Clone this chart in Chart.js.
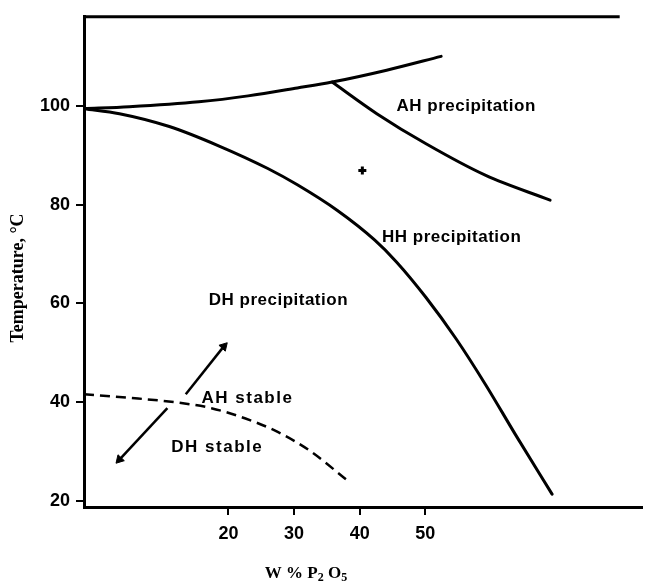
<!DOCTYPE html>
<html>
<head>
<meta charset="utf-8">
<script src="https://cdn.jsdelivr.net/npm/chart.js@4/dist/chart.umd.min.js"></script>
<style>
  body { margin: 0; background: #fff; }
  #wrap { width: 649px; height: 587px; }
</style>
</head>
<body>
<div id="wrap"><canvas id="phaseChart" width="649" height="587"></canvas></div>
<script>
// Tick labels
const xTicks = [20, 30, 40, 50];
const yTicks = [20, 40, 60, 80, 100];

// Upper boundary (W% P2O5, temperature)
const topCurveP = [-2.0, 4.9, 15.5, 23.0, 30.5, 35.8, 44.1, 52.4];
const topCurveT = [99.4, 99.8, 100.8, 102.0, 103.6, 104.8, 107.2, 110.0];

// AH / HH precipitation boundary
const ahHhP = [35.8, 42.6, 50.1, 59.2, 69.0];
const ahHhT = [104.8, 98.4, 92.3, 85.9, 80.9];

// DH / HH precipitation boundary
const dhHhP = [-2.0, 3.4, 11.0, 18.5, 26.0, 30.5, 36.6, 42.3, 45.6, 50.1, 54.7, 59.2, 63.7, 69.3];
const dhHhT = [99.4, 98.4, 95.8, 91.9, 87.3, 84.0, 78.8, 72.8, 68.4, 61.2, 52.8, 43.5, 33.5, 21.4];

// AH stable / DH stable boundary (dashed)
const stableP = [-2.0, 4.9, 12.5, 17.4, 22.6, 27.5, 32.5, 38.1];
const stableT = [41.6, 40.9, 39.9, 38.8, 36.7, 34.0, 30.1, 24.2];

// arrows
const arrowUpP = [13.5, 19.3];
const arrowUpT = [41.6, 51.3];
const arrowDownP = [10.7, 3.4];
const arrowDownT = [38.8, 28.4];

// single marked point
const markP = [40.4];
const markT = [86.9];

// region labels
const regionLabels = ['AH precipitation', 'HH precipitation', 'DH precipitation', 'AH stable', 'DH stable'];
const labelP = [45.6, 43.4, 17.0, 15.9, 11.3];
const labelT = [99.8, 73.3, 60.7, 40.8, 30.8];

function pts(xs, ys) {
    return xs.map((x, i) => ({ x: x, y: ys[i] }));
}

function curve(xs, ys, extra) {
    return Object.assign({
        data: pts(xs, ys),
        showLine: true,
        borderColor: '#000',
        borderWidth: 3,
        pointRadius: 0,
        cubicInterpolationMode: 'monotone',
        borderCapStyle: 'round'
    }, extra || {});
}

function arrow(xs, ys, angle) {
    return {
        data: pts(xs, ys),
        showLine: true,
        borderColor: '#000',
        borderWidth: 2.5,
        pointStyle: 'triangle',
        pointRadius: [0, 5],
        rotation: [0, angle],
        pointBackgroundColor: '#000',
        pointBorderColor: '#000',
        pointBorderWidth: 1
    };
}

// Labels, axis titles and top frame
const decorations = {
    id: 'decorations',
    afterDraw(chart) {
        const ctx = chart.ctx;
        const xs = chart.scales.x;
        const ys = chart.scales.y;
        const area = chart.chartArea;
        ctx.save();
        ctx.strokeStyle = '#000';
        ctx.lineWidth = 3;
        ctx.beginPath();
        ctx.moveTo(area.left, area.top);
        ctx.lineTo(xs.getPixelForValue(79.6), area.top);
        ctx.stroke();

        ctx.fillStyle = '#000';
        ctx.textBaseline = 'middle';
        ctx.textAlign = 'left';
        ctx.font = 'bold 17px "Liberation Sans", Arial, sans-serif';
        regionLabels.forEach((t, i) => {
            ctx.letterSpacing = t.indexOf('stable') >= 0 ? '1.5px' : '0.5px';
            ctx.fillText(t, xs.getPixelForValue(labelP[i]), ys.getPixelForValue(labelT[i]));
        });
        ctx.letterSpacing = '0px';

        // y title
        ctx.save();
        ctx.translate(18, 278);
        ctx.rotate(-Math.PI / 2);
        ctx.textAlign = 'center';
        ctx.font = 'bold 18px "Liberation Serif", "Times New Roman", serif';
        ctx.fillText('Temperature, \u00B0C', 0, 0);
        ctx.restore();

        // x title with subscripts
        const big = 'bold 17px "Liberation Serif", "Times New Roman", serif';
        const small = 'bold 12px "Liberation Serif", "Times New Roman", serif';
        const parts = [['W % P', big, 0], ['2', small, 4], [' O', big, 0], ['5', small, 4]];
        let w = 0;
        parts.forEach(p => { ctx.font = p[1]; w += ctx.measureText(p[0]).width; });
        let x = 306 - w / 2;
        parts.forEach(p => {
            ctx.font = p[1];
            ctx.fillText(p[0], x, 574 + p[2]);
            x += ctx.measureText(p[0]).width;
        });
        ctx.restore();
    }
};

const tickFont = { family: '"Liberation Sans", Arial, sans-serif', size: 18, weight: 'bold' };

new Chart(document.getElementById('phaseChart').getContext('2d'), {
    type: 'scatter',
    data: {
        datasets: [
            curve(topCurveP, topCurveT),
            curve(ahHhP, ahHhT),
            curve(dhHhP, dhHhT),
            curve(stableP, stableT, { borderWidth: 2.5, borderDash: [10, 6], borderCapStyle: 'butt' }),
            arrow(arrowUpP, arrowUpT, 43),
            arrow(arrowDownP, arrowDownT, 223),
            {
                data: pts(markP, markT),
                pointStyle: 'cross',
                pointRadius: 4,
                borderColor: '#000',
                borderWidth: 3
            }
        ]
    },
    options: {
        responsive: false,
        animation: false,
        layout: { padding: { top: 12, right: 1, left: 0, bottom: 0 } },
        plugins: { legend: { display: false }, tooltip: { enabled: false } },
        scales: {
            x: {
                type: 'linear',
                min: -2,
                max: 83,
                afterBuildTicks: s => { s.ticks = xTicks.map(v => ({ value: v })); },
                afterFit: s => { s.height = 80; },
                border: { color: '#000', width: 3 },
                grid: { drawOnChartArea: false, color: '#000', lineWidth: 2, tickLength: 8 },
                ticks: { color: '#000', font: tickFont, padding: 8, maxRotation: 0 }
            },
            y: {
                type: 'linear',
                min: 18.8,
                max: 118,
                afterBuildTicks: s => { s.ticks = yTicks.map(v => ({ value: v })); },
                afterFit: s => { s.width = 84; },
                border: { color: '#000', width: 3 },
                grid: { drawOnChartArea: false, color: '#000', lineWidth: 2, tickLength: 8 },
                ticks: { color: '#000', font: tickFont, padding: 6 }
            }
        }
    },
    plugins: [decorations]
});
</script>
</body>
</html>
